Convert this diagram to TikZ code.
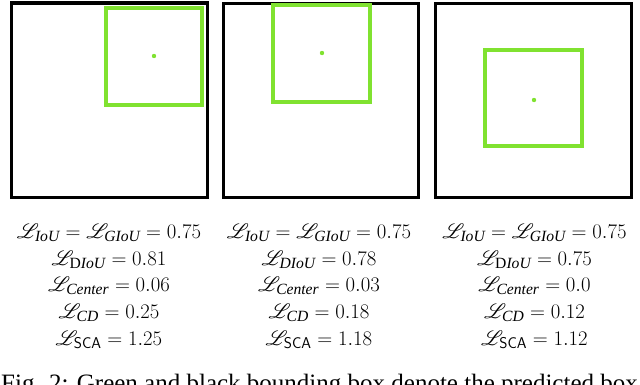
\documentclass[tikz,border=0pt]{standalone}
\usepackage{fontspec}
\usepackage{mathrsfs}
\setmainfont{Liberation Serif}
\definecolor{predgreen}{RGB}{128,226,48}
\tikzset{
  gtbox/.style={draw=black, line width=3.5pt},
  predbox/.style={draw=predgreen, line width=4pt},
  ctr/.style={fill=predgreen, draw=none},
  losstext/.style={anchor=base, inner sep=0pt, font=\fontsize{22.3}{26}\selectfont},
  captext/.style={anchor=base west, inner sep=0pt, font=\fontsize{25}{28}\selectfont}
}
\newcommand{\Lss}[1]{\mathscr{L}_{#1}}
\begin{document}
\begin{tikzpicture}[x=1pt,y=-1pt]
\useasboundingbox (0,0) rectangle (640,384);
\clip (0,0) rectangle (640,384);
\fill[white] (0,0) rectangle (640,384);
% column 1
\draw[gtbox] (11.5,3) rectangle (207.5,197.5);
\draw[predbox] (106,8) rectangle (202,105);
\fill[ctr] (154,56) circle (2.2);
% column 2
\draw[gtbox] (223.5,3.5) rectangle (418.5,197.5);
\draw[predbox] (273,5) rectangle (370,102);
\fill[ctr] (322,53) circle (2.2);
% column 3
\draw[gtbox] (435.5,3.5) rectangle (631.5,197.5);
\draw[predbox] (485,50) rectangle (582,146);
\fill[ctr] (534,100) circle (2.2);
% texts column 1
\node[losstext] (a1) at (109,238) {$\Lss{\mathit{IoU}} = \Lss{\mathit{GIoU}} = 0.75$};
\node[losstext] (a2) at (109,265) {$\Lss{\mathrm{D}\mathit{IoU}} = 0.81$};
\node[losstext] (a3) at (109,291.5) {$\Lss{\mathit{Center}} = 0.06$};
\node[losstext] (a4) at (109,318) {$\Lss{\mathit{CD}} = 0.25$};
\node[losstext] (a5) at (109,345) {$\Lss{\mathsf{SCA}} = 1.25$};
% texts column 2
\node[losstext] (b1) at (319,238) {$\Lss{\mathit{IoU}} = \Lss{\mathit{GIoU}} = 0.75$};
\node[losstext] (b2) at (319,265) {$\Lss{\mathit{DIoU}} = 0.78$};
\node[losstext] (b3) at (319,291.5) {$\Lss{\mathit{Center}} = 0.03$};
\node[losstext] (b4) at (319,318) {$\Lss{\mathit{CD}} = 0.18$};
\node[losstext] (b5) at (319,345) {$\Lss{\mathsf{SCA}} = 1.18$};
% texts column 3
\node[losstext] (c1) at (534.5,238) {$\Lss{\mathit{IoU}} = \Lss{\mathit{GIoU}} = 0.75$};
\node[losstext] (c2) at (534.5,265) {$\Lss{\mathrm{D}\mathit{IoU}} = 0.75$};
\node[losstext] (c3) at (534.5,291.5) {$\Lss{\mathit{Center}} = 0.0$};
\node[losstext] (c4) at (534.5,318) {$\Lss{\mathit{CD}} = 0.12$};
\node[losstext] (c5) at (534.5,345) {$\Lss{\mathsf{SCA}} = 1.12$};
% caption
\node[captext] (cap) at (1,391) {Fig. 2: Green and black bounding box denote the predicted box};
\end{tikzpicture}
\end{document}
